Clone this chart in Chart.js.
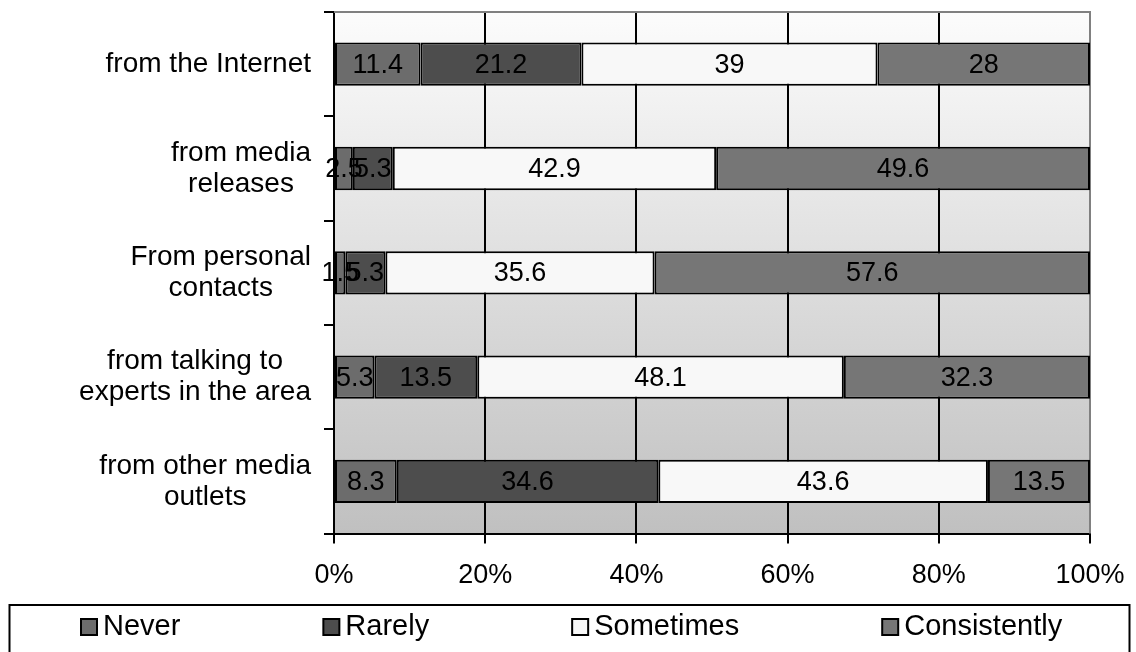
<!DOCTYPE html>
<html>
<head>
<meta charset="utf-8">
<script src="https://cdn.jsdelivr.net/npm/chart.js@4.4.1/dist/chart.umd.min.js"></script>
<style>
  html, body { margin: 0; padding: 0; background: #fff; }
</style>
</head>
<body>
<canvas id="barchart" width="1136" height="652"></canvas>
<script>
// data
const categories = [
    ['from the Internet'],
    ['from media', 'releases'],
    ['From personal', 'contacts'],
    ['from talking to', 'experts in the area'],
    ['from other media', 'outlets']
];
const seriesNames = ['Never', 'Rarely', 'Sometimes', 'Consistently'];
const never = [11.4, 2.5, 1.5, 5.3, 8.3];
const rarely = [21.2, 5.3, 5.3, 13.5, 34.6];
const sometimes = [39, 42.9, 35.6, 48.1, 43.6];
const consistently = [28, 49.6, 57.6, 32.3, 13.5];
const xTicks = [0, 20, 40, 60, 80, 100];

const FONT = '"Liberation Sans", Arial, sans-serif';
const colors = ['#6c6c6c', '#4d4d4d', '#f8f8f8', '#767676'];
const series = [never, rarely, sometimes, consistently];

// 100% stacked: each row is scaled to its own total
const totals = categories.map((c, j) => series.reduce((s, arr) => s + arr[j], 0));

const plotBackground = {
    id: 'plotBackground',
    beforeDraw(chart) {
        const { ctx, chartArea: a } = chart;
        const g = ctx.createLinearGradient(0, a.top, 0, a.bottom);
        g.addColorStop(0, '#fcfcfc');
        g.addColorStop(1, '#c0c0c0');
        ctx.save();
        ctx.fillStyle = g;
        ctx.fillRect(a.left, a.top, a.right - a.left, a.bottom - a.top);
        ctx.restore();
    },
    beforeDatasetsDraw(chart) {
        const { ctx, chartArea: a } = chart;
        ctx.save();
        ctx.strokeStyle = '#808080';
        ctx.lineWidth = 2;
        ctx.beginPath();
        ctx.moveTo(a.left, a.top);
        ctx.lineTo(a.right, a.top);
        ctx.lineTo(a.right, a.bottom);
        ctx.stroke();
        ctx.restore();
    }
};

const segmentLabels = {
    id: 'segmentLabels',
    afterDatasetsDraw(chart) {
        const { ctx } = chart;
        ctx.save();
        ctx.font = '27px ' + FONT;
        ctx.fillStyle = '#000';
        ctx.textAlign = 'center';
        ctx.textBaseline = 'middle';
        chart.data.datasets.forEach((ds, i) => {
            chart.getDatasetMeta(i).data.forEach((bar, j) => {
                const p = bar.getProps(['x', 'y', 'base'], true);
                ctx.fillText(String(ds.values[j]), (p.x + p.base) / 2, p.y + 1);
            });
        });
        ctx.restore();
    }
};

const categoryLabels = {
    id: 'categoryLabels',
    afterDraw(chart) {
        const { ctx } = chart;
        const y = chart.scales.y;
        const right = y.right - 23;
        ctx.save();
        ctx.font = '28px ' + FONT;
        ctx.fillStyle = '#000';
        ctx.textAlign = 'center';
        ctx.textBaseline = 'middle';
        chart.data.labels.forEach((lines, i) => {
            const cy = y.getPixelForValue(i);
            const w = Math.max(...lines.map(s => ctx.measureText(s).width));
            lines.forEach((s, k) => {
                ctx.fillText(s, right - w / 2, cy + (k - (lines.length - 1) / 2) * 31);
            });
        });
        ctx.restore();
    }
};

const boxLegend = {
    id: 'boxLegend',
    afterDraw(chart) {
        const { ctx, width } = chart;
        ctx.save();
        ctx.strokeStyle = '#000';
        ctx.lineWidth = 2;
        ctx.strokeRect(9.5, 605, width - 16, 60);
        ctx.font = '29px ' + FONT;
        ctx.textAlign = 'left';
        ctx.textBaseline = 'middle';
        const cy = 627;
        let x = 80;
        chart.data.datasets.forEach(ds => {
            ctx.fillStyle = ds.backgroundColor;
            ctx.fillRect(x + 1, cy - 8, 16, 16);
            ctx.strokeRect(x + 1, cy - 8, 16, 16);
            ctx.fillStyle = '#000';
            ctx.fillText(ds.label, x + 23, cy);
            x += 23 + ctx.measureText(ds.label).width + 142;
        });
        ctx.restore();
    }
};

const ctx = document.getElementById('barchart');

new Chart(ctx, {
    type: 'bar',
    data: {
        labels: categories,
        datasets: series.map((arr, i) => ({
            label: seriesNames[i],
            values: arr,
            data: arr.map((v, j) => v / totals[j] * 100),
            backgroundColor: colors[i],
            borderColor: '#000',
            borderWidth: 2,
            borderSkipped: false,
            barPercentage: 0.415,
            categoryPercentage: 1
        }))
    },
    options: {
        indexAxis: 'y',
        responsive: false,
        animation: false,
        devicePixelRatio: 1,
        layout: { padding: { left: 324, right: 46, top: 12, bottom: 44 } },
        plugins: {
            legend: { display: false },
            tooltip: { enabled: false }
        },
        scales: {
            x: {
                stacked: true,
                min: 0,
                max: 100,
                afterBuildTicks: scale => { scale.ticks = xTicks.map(v => ({ value: v })); },
                afterFit: scale => { scale.paddingRight = 20; scale.paddingLeft = 20; },
                ticks: {
                    callback: v => v + '%',
                    color: '#000',
                    font: { family: FONT, size: 27 },
                    padding: 16,
                    maxRotation: 0
                },
                grid: {
                    color: c => (c.tick && c.tick.value === 100) ? '#808080' : '#000',
                    tickColor: '#000',
                    lineWidth: 2,
                    tickLength: 10
                },
                border: { color: '#000', width: 2 }
            },
            y: {
                stacked: true,
                ticks: { display: false },
                grid: {
                    drawOnChartArea: false,
                    offset: true,
                    color: '#000',
                    lineWidth: 2,
                    tickLength: 10
                },
                border: { color: '#000', width: 2 }
            }
        }
    },
    plugins: [plotBackground, segmentLabels, categoryLabels, boxLegend]
});
</script>
</body>
</html>
